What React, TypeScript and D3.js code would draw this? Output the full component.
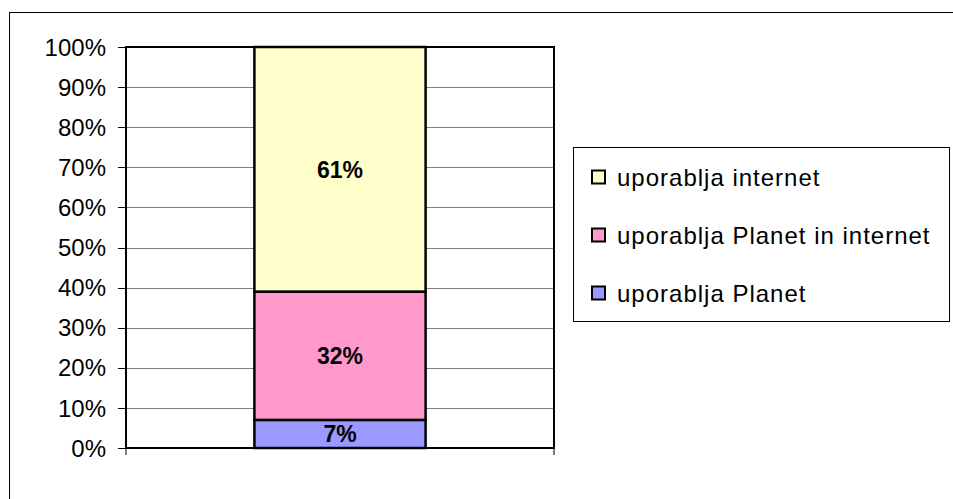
import React from 'react';
import * as d3 from 'd3';

// stacked segments, bottom to top
const series = ['uporablja Planet', 'uporablja Planet in internet', 'uporablja internet'];
const values = [7, 32, 61];
const colors = ['#9999FF', '#FF99CC', '#FFFFCC'];
const yTicks = [0, 10, 20, 30, 40, 50, 60, 70, 80, 90, 100];
const categories = [''];

const App = () => {
    const width = 953, height = 499;
    const plot = { left: 126, top: 47, right: 554, bottom: 448 };

    const x = d3.scaleBand().domain(categories).range([plot.left, plot.right]).paddingInner(0).paddingOuter(0.75);
    const y = d3.scaleLinear().domain([0, 100]).range([plot.bottom, plot.top]);

    const row = {} as any;
    series.forEach((s, i) => (row[s] = values[i]));
    const stacked = d3.stack().keys(series)([row]);

    // legend lists top series first
    const legendOrder = [2, 1, 0];
    const font = 'Arial, "Liberation Sans", sans-serif';

    return (
        <svg width={width} height={height} style={{ position: 'absolute', left: 0, top: 0 }} fontFamily={font}>
            <rect x={0} y={0} width={width} height={height} fill="#fff" />
            {/* outer chart border */}
            <rect x={9.5} y={12.5} width={width + 20} height={height + 20} fill="none" stroke="#000" strokeWidth={1} />

            {/* gridlines */}
            {yTicks.map((t) => (
                <line key={t} x1={plot.left} x2={plot.right} y1={Math.round(y(t)) + 0.5} y2={Math.round(y(t)) + 0.5} stroke="#808080" strokeWidth={1} />
            ))}

            {/* bars */}
            {stacked.map((layer, i) =>
                layer.map((d, j) => (
                    <rect
                        key={i + '-' + j}
                        x={x(categories[j])!}
                        y={y(d[1])}
                        width={x.bandwidth()}
                        height={y(d[0]) - y(d[1])}
                        fill={colors[i]}
                        stroke="#000"
                        strokeWidth={2.5}
                    />
                ))
            )}

            {/* plot frame */}
            <rect x={plot.left} y={plot.top} width={plot.right - plot.left} height={plot.bottom - plot.top} fill="none" stroke="#000" strokeWidth={2} />

            {/* y axis ticks & labels */}
            {yTicks.map((t) => (
                <g key={'yt' + t}>
                    <line x1={plot.left - 8} x2={plot.left} y1={Math.round(y(t)) + 0.5} y2={Math.round(y(t)) + 0.5} stroke="#000" strokeWidth={1} />
                    <text x={106} y={y(t)} dy="0.36em" textAnchor="end" fontSize={24}>
                        {t}%
                    </text>
                </g>
            ))}
            {/* x axis end ticks */}
            {[plot.left, plot.right].map((px) => (
                <line key={px} x1={px} x2={px} y1={plot.bottom} y2={plot.bottom + 7} stroke="#000" strokeWidth={1} />
            ))}

            {/* value labels */}
            {stacked.map((layer, i) =>
                layer.map((d, j) => (
                    <text
                        key={'l' + i + '-' + j}
                        x={x(categories[j])! + x.bandwidth() / 2}
                        y={(y(d[0]) + y(d[1])) / 2}
                        dy="0.36em"
                        textAnchor="middle"
                        fontSize={23}
                        fontWeight="bold"
                    >
                        {values[i]}%
                    </text>
                ))
            )}

            {/* legend */}
            <rect x={573.5} y={147.5} width={376} height={174} fill="#fff" stroke="#000" strokeWidth={1} />
            {legendOrder.map((si, k) => {
                const cy = 177 + k * 58;
                return (
                    <g key={'lg' + si}>
                        <rect x={592} y={cy - 6.5} width={13} height={13} fill={colors[si]} stroke="#000" strokeWidth={2} />
                        <text x={617} y={cy} dy="0.36em" fontSize={24} letterSpacing={1}>
                            {series[si]}
                        </text>
                    </g>
                );
            })}
        </svg>
    );
};

export default App;
